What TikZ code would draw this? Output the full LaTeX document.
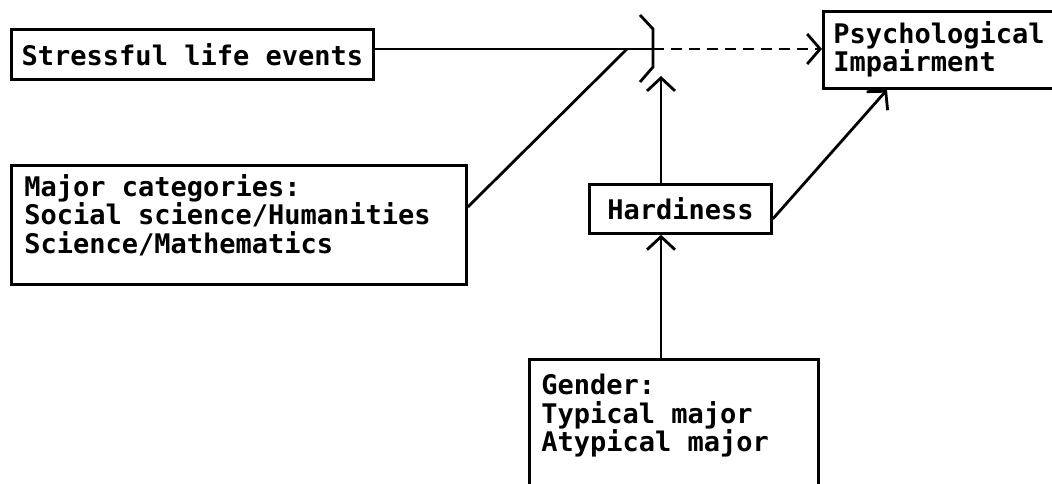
\documentclass[tikz,border=0pt]{standalone}
\usepackage{fontspec}
\setmonofont{DejaVu Sans Mono}
\usetikzlibrary{arrows.meta}
\begin{document}
\begin{tikzpicture}[x=1pt,y=-1pt,
  line width=2.8pt,
  box/.style={draw, rectangle, inner sep=0pt, anchor=north west},
  txt/.style={font=\ttfamily\bfseries\fontsize{27}{28.5}\selectfont, inner sep=0pt, align=left},
  arr/.style={-{Straight Barb[length=13pt,width=28pt]}},
  dsh/.style={dash pattern=on 11pt off 7pt},
]
\useasboundingbox (0,0) rectangle (1052,483);
\fill[white] (0,0) rectangle (1052,483);

% boxes
\node[box, txt, minimum width=362pt, minimum height=50pt] (stress) at (10,28) {Stressful life events};
\node[box, minimum width=455pt, minimum height=119pt] (major) at (10,164) {};
\node[txt, anchor=north west] (majortxt) at (23,173) {Major categories:\\Social science/Humanities\\Science/Mathematics};
\node[box, minimum width=240pt, minimum height=77pt] (psych) at (822,10) {};
\node[txt, anchor=north west] (psychtxt) at (832,20) {Psychological\\Impairment};
\node[box, txt, minimum width=182pt, minimum height=49pt] (hard) at (588,183) {Hardiness};
\node[box, minimum width=289pt, minimum height=150pt] (gender) at (528,358) {};
\node[txt, anchor=north west] (gendertxt) at (540,373) {Gender:\\Typical major\\Atypical major};

% junction
\coordinate (j) at (653,49);
\coordinate (mj) at (627,49);
\coordinate (jtop) at (640,15);
\coordinate (jbot) at (640,82);
\coordinate (jtip) at (661,76);
\coordinate (vx) at (661,0);
\coordinate (px) at (887,0);

\draw (jtop) -- (653,29) -- (653,67) -- (jbot);
\draw (stress.east |- j) -- (j);
\draw[dsh, -{Straight Barb[length=13pt,width=30pt]}] (j) -- (psych.west |- j);
\draw ([yshift=-43pt]major.north east) -- (mj);
\draw[arr] (vx |- gender.north) -- (vx |- hard.south);
\draw[arr] (vx |- hard.north) -- (jtip);
\draw[arr] ([yshift=-10pt]hard.east) -- (psych.south -| px);
\end{tikzpicture}
\end{document}
